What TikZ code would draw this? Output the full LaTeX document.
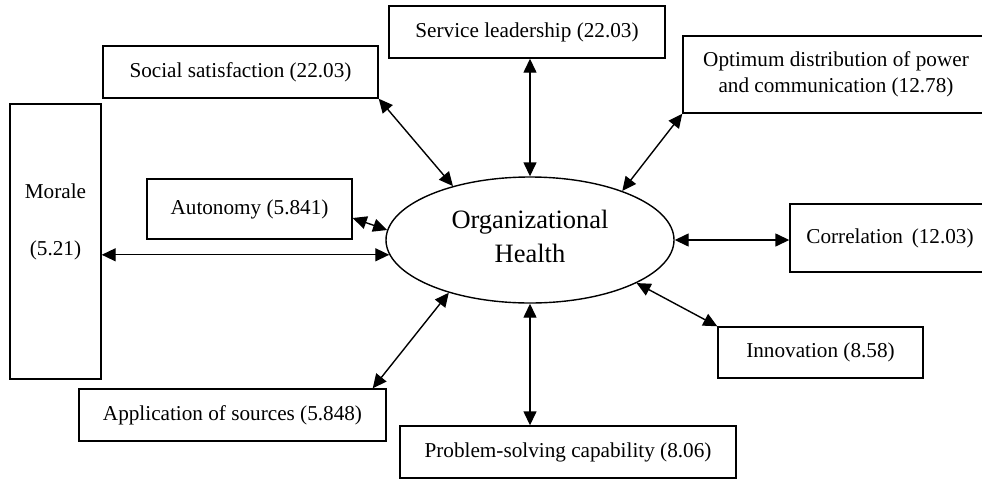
\documentclass[tikz,border=0pt]{standalone}
\usepackage{fontspec}
\setmainfont{Liberation Serif}
\usetikzlibrary{arrows.meta,shapes.geometric}

\tikzset{
  box/.style={draw, line width=1.4pt, rectangle, inner sep=0pt, align=center,
    font=\fontsize{21.2pt}{26pt}\selectfont},
  plaintext/.style={inner sep=0pt, font=\fontsize{21.2pt}{26pt}\selectfont},
  hub/.style={draw, line width=1.4pt, ellipse, inner sep=0pt, align=center,
    minimum width=288pt, minimum height=126pt,
    font=\fontsize{26.5pt}{34pt}\selectfont},
  link/.style={line width=1.4pt,
    {Triangle[length=14pt,width=13pt]}-{Triangle[length=14pt,width=13pt]}}
}

\begin{document}
\begin{tikzpicture}[x=1pt, y=-1pt]
  \path[use as bounding box] (0,0) rectangle (982,480);
  \clip (0,0) rectangle (982,480);

  % central construct
  \node[hub] (org) at (530,240) {Organizational\\Health\rule[-8pt]{0pt}{0pt}};

  % surrounding dimensions
  \node[box, minimum width=276pt, minimum height=52pt] (serv) at (527,32) {Service leadership (22.03)};
  \node[box, minimum width=275pt, minimum height=52pt] (soc) at (240.5,72) {Social satisfaction (22.03)};
  \node[box, minimum width=306pt, minimum height=77pt] (opt) at (836,74.5) {Optimum distribution of power\\and communication (12.78)};
  \node[box, minimum width=91pt, minimum height=275pt] (morale) at (55.5,241.5) {};
  \node[plaintext, anchor=base] (moraletitle) at (55.5,198) {Morale};
  \node[plaintext, anchor=base] (moralevalue) at (55.5,255) {(5.21)};
  \node[box, minimum width=205pt, minimum height=60pt] (auton) at (249.5,209) {Autonomy (5.841)};
  \node[box, minimum width=200pt, minimum height=68pt] (corr) at (890,238) {Correlation \,(12.03)};
  \node[box, minimum width=205pt, minimum height=51pt] (innov) at (820.5,352.5) {Innovation (8.58)};
  \node[box, minimum width=307pt, minimum height=52pt] (app) at (232.5,415) {Application of sources (5.848)};
  \node[box, minimum width=336pt, minimum height=52pt] (prob) at (568,452) {Problem-solving capability (8.06)};

  % two-way links
  \draw[link] (org.north) -- (org.north |- serv.south);
  \draw[link] (org.145) -- (soc.south east);
  \draw[link] (org.28) -- (opt.south west);
  \draw[link] (org.176) -- ([yshift=-9pt]auton.east);
  \draw[link] (morale.east |- org.186.1) -- (org.186.1);
  \draw[link] (org.east) -- (org.east -| corr.west);
  \draw[link] (org.338) -- (innov.north west);
  \draw[link] (org.south) -- (org.south |- prob.north);
  \draw[link] (org.213.5) -- ([xshift=-14pt]app.north east);
\end{tikzpicture}
\end{document}
